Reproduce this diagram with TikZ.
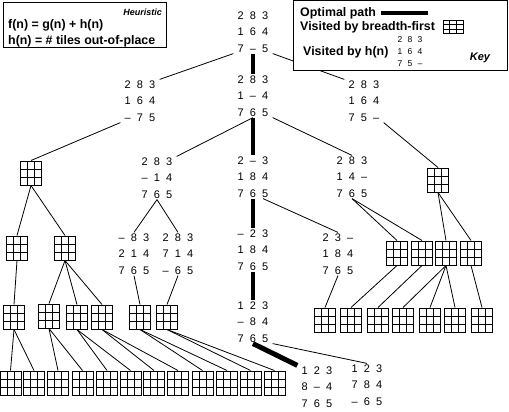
\documentclass[tikz,border=0pt]{standalone}
\usepackage{fontspec}
\setmainfont{Liberation Sans}
\usetikzlibrary{calc}
\newlength\pzw
\setlength\pzw{12.3pt}
\newcommand\pzr[3]{\makebox[\pzw]{#1}\makebox[\pzw]{#2}\makebox[\pzw]{#3}}
\newcommand\pz[9]{\pzr{#1}{#2}{#3}\\\pzr{#4}{#5}{#6}\\\pzr{#7}{#8}{#9}}
\newcommand\dsh{\textendash}
\newcommand\pzfont{\fontsize{11}{16.5}\selectfont}
\newcommand\lblfont{\bfseries\fontsize{12.4}{14}\selectfont}
\tikzset{
  conn/.style={line width=0.8pt},
  opt/.style={line width=4pt},
  pz/.style={inner sep=1pt, align=center, font=\pzfont},
  gridlines/.style={path picture={
    \foreach \q in {0.3333,0.6667}{
      \draw[line width=0.9pt] ($(path picture bounding box.north west)!\q!(path picture bounding box.north east)$) -- ($(path picture bounding box.south west)!\q!(path picture bounding box.south east)$);
      \draw[line width=0.9pt] ($(path picture bounding box.north west)!\q!(path picture bounding box.south west)$) -- ($(path picture bounding box.north east)!\q!(path picture bounding box.south east)$);
    }}},
  gridbox/.style={draw, line width=1pt, minimum width=21pt, minimum height=24pt, inner sep=0pt, gridlines},
  lbl/.style={anchor=west, inner sep=0pt, font=\lblfont},
}
\begin{document}
\begin{tikzpicture}[x=1pt,y=-1pt]
\useasboundingbox (0,0) rectangle (509,412);
% level 0-1
\node[pz] (R) at (253,32) {\pz2831647\dsh5};
\node[pz] (A1) at (140,101) {\pz283164\dsh75};
\node[pz] (A2) at (253,96) {\pz2831\dsh4765};
\node[pz] (A3) at (364,101) {\pz28316475\dsh};
% level 2
\node[gridbox] (G1) at (31,173) {};
\node[pz] (B1) at (157,178) {\pz283\dsh14765};
\node[pz] (B2) at (253,177) {\pz2\dsh3184765};
\node[pz] (B3) at (352,177) {\pz28314\dsh765};
\node[gridbox] (G2) at (438,180) {};
% level 3
\node[gridbox] (G3) at (17,248) {};
\node[gridbox] (G4) at (65,248) {};
\node[pz] (C1) at (134,254) {\pz\dsh83214765};
\node[pz] (C2) at (178,254) {\pz283714\dsh65};
\node[pz] (C3) at (253,250) {\pz\dsh23184765};
\node[pz] (C4) at (338,254) {\pz23\dsh184765};
\node[gridbox] (G5) at (397,253) {};
\node[gridbox] (G6) at (422,253) {};
\node[gridbox] (G7) at (446,253) {};
\node[gridbox] (G8) at (471,253) {};
% level 4
\node[gridbox] (G9) at (14,317) {};
\node[gridbox] (G10) at (49,316) {};
\node[gridbox] (G11) at (77,317) {};
\node[gridbox] (G12) at (102,317) {};
\node[gridbox] (G13) at (140,317) {};
\node[gridbox] (G14) at (167,317) {};
\node[pz] (D1) at (253,322) {\pz123\dsh84765};
\node[gridbox] (G15) at (325,320) {};
\node[gridbox] (G16) at (351,320) {};
\node[gridbox] (G17) at (378,320) {};
\node[gridbox] (G18) at (403,320) {};
\node[gridbox] (G19) at (430,320) {};
\node[gridbox] (G20) at (455,320) {};
\node[gridbox] (G21) at (482,320) {};
% level 5
\foreach \i/\x in {1/10.5,2/34,3/58,4/82.5,5/107,6/130.5,7/154,8/178,9/202.5,10/227,11/250.5,12/274.5}{
  \node[gridbox] (H\i) at (\x,383) {};
}
\node[pz] (E1) at (317,387) {\pz1238\dsh4765};
\node[pz] (E2) at (367,385) {\pz123784\dsh65};
% connectors
\draw[conn] (R.south west) -- (A1.north east);
\draw[conn] (R.south east) -- (A3.north west);
\draw[opt] (R.south) -- (A2.north);
\draw[conn] (A1.south west) -- (G1.north);
\draw[conn] (A2.south) -- (B1.north east);
\draw[opt] (A2.south) -- (B2.north);
\draw[conn] (A2.south east) -- (B3.north);
\draw[conn] (A3.south east) -- (G2.north);
\draw[conn] (G1.south) -- (G3.north);
\draw[conn] (G1.south) -- (G4.north);
\draw[conn] (B1.south) -- (C1.north);
\draw[conn] (B1.south) -- (C2.north);
\draw[opt] (B2.south) -- (C3.north);
\draw[conn] ([xshift=10pt]B2.south) -- (C4.north);
\draw[conn] (B3.south) -- (G5.north);
\draw[conn] (B3.south) -- (G6.north);
\draw[conn] (G2.south) -- (G7.north);
\draw[conn] (G2.south) -- (G8.north);
\draw[conn] (G3.south) -- (G9.north);
\foreach \c in {G10,G11,G12}{\draw[conn] (G4.south) -- (\c.north);}
\draw[conn] (C1.south) -- (G13.north);
\draw[conn] (C2.south) -- (G14.north);
\draw[opt] (C3.south) -- (D1.north);
\draw[conn] (C4.south) -- (G15.north);
\draw[conn] (G5.south) -- (G16.north);
\draw[conn] (G6.south) -- (G17.north);
\foreach \c in {G18,G19,G20}{\draw[conn] (G7.south) -- (\c.north);}
\draw[conn] (G8.south) -- (G21.north);
\foreach \p/\a/\b in {G9/H1/H2,G10/H3/H4,G11/H5/H6,G12/H7/H8,G13/H9/H10,G14/H11/H12}{
  \draw[conn] (\p.south) -- (\a.north);
  \draw[conn] (\p.south) -- (\b.north);
}
\draw[line width=5pt] (D1.south) -- (E1.north west);
\draw[conn] (D1.south east) -- (E2.north);
% heuristic box
\draw[line width=1pt, fill=white] (3,3) rectangle (166,48);
\node[anchor=east, inner sep=0pt, font=\bfseries\itshape\fontsize{9}{10}\selectfont] (heu) at (162,12) {Heuristic};
\node[lbl] (f1) at (8,25) {f(n) = g(n) + h(n)};
\node[lbl] (f2) at (8,41) {h(n) = \# tiles out-of-place};
% key box
\draw[line width=1pt, fill=white] (293,1) rectangle (507,71);
\node[lbl] (k1) at (300,13) {Optimal path};
\coordinate (kb1) at (381,13);
\coordinate (kb2) at (428,13);
\draw[opt] (kb1) -- (kb2);
\node[lbl] (k2) at (300,27) {Visited by breadth-first};
\node[draw, line width=1pt, minimum width=20pt, minimum height=13pt, inner sep=0pt, gridlines] (kg) at (453,27) {};
\node[lbl] (k3) at (303,52) {Visited by h(n)};
\node[inner sep=1pt, align=center, font={\fontsize{8.5}{12}\selectfont\setlength\pzw{10pt}}] (kp) at (410,52) {\pz28316475\dsh};
\node[inner sep=0pt, font=\bfseries\itshape\fontsize{11}{12}\selectfont] (key) at (480,58) {Key};
\end{tikzpicture}
\end{document}
